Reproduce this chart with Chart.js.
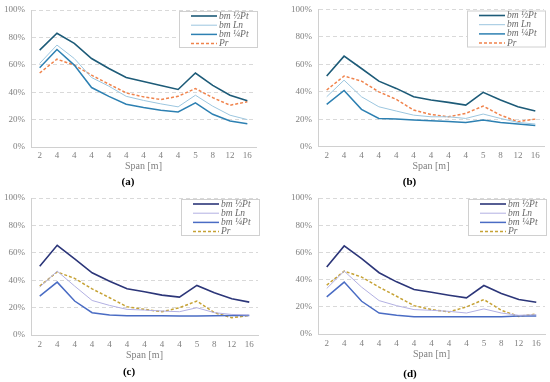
<!DOCTYPE html>
<html>
<head>
<meta charset="utf-8">
<script src="https://cdn.jsdelivr.net/npm/chart.js@4.4.1/dist/chart.umd.min.js"></script>
<style>
  html, body { margin: 0; padding: 0; background: #ffffff; }
  #wrap { position: relative; width: 550px; height: 382px; }
  .cell { position: absolute; width: 275px; height: 191px; }
</style>
</head>
<body>
<div id="wrap">
  <div class="cell" style="left:0;top:0"><canvas id="ca" width="275" height="191"></canvas></div>
  <div class="cell" style="left:275px;top:0"><canvas id="cb" width="275" height="191"></canvas></div>
  <div class="cell" style="left:0;top:191px"><canvas id="cc" width="275" height="191"></canvas></div>
  <div class="cell" style="left:275px;top:191px"><canvas id="cd" width="275" height="191"></canvas></div>
</div>
<script>
// ---- Data ----
const spans = ['2', '4', '4', '4', '4', '4', '4', '4', '4', '5', '8', '12', '16'];
const seriesNames = ['bm \u00BDPt', 'bm Ln', 'bm \u00BCPt', 'Pr'];
const panelLabels = ['(a)', '(b)', '(c)', '(d)'];
const axisTitle = 'Span [m]';

// panel (a)
const aHalfPt    = [70.7, 83.0, 75.6, 64.6, 57.3, 50.7, 47.8, 44.9, 42.0, 54.0, 45.0, 37.8, 33.7];
const aLn        = [61.0, 74.4, 64.6, 50.7, 44.4, 37.0, 34.0, 31.5, 29.3, 37.8, 29.8, 23.2, 20.0];
const aQuarterPt = [57.8, 71.2, 59.8, 43.4, 37.0, 31.2, 28.8, 26.8, 25.6, 32.2, 23.9, 19.0, 17.0];
const aPr        = [54.0, 64.1, 59.8, 52.4, 45.9, 39.5, 36.6, 34.6, 37.0, 42.7, 36.0, 30.5, 33.0];
// panel (b)
const bHalfPt    = [51.5, 66.0, 57.0, 47.8, 42.5, 36.4, 34.0, 32.3, 30.3, 39.6, 34.0, 29.1, 26.0];
const bLn        = [36.4, 48.5, 36.4, 29.1, 26.0, 23.0, 21.8, 21.8, 20.6, 23.8, 20.6, 17.7, 16.5];
const bQuarterPt = [30.8, 41.0, 27.2, 20.6, 20.1, 19.4, 18.9, 18.4, 17.7, 19.4, 17.7, 16.5, 15.5];
const bPr        = [41.3, 51.5, 47.8, 40.0, 34.5, 26.7, 23.5, 21.8, 24.3, 29.6, 23.0, 18.2, 20.1];
// panel (c)
const cHalfPt    = [50.2, 65.5, 55.6, 45.4, 39.3, 33.7, 31.6, 29.1, 27.7, 36.2, 30.8, 26.5, 24.0];
const cLn        = [35.0, 46.6, 35.7, 25.2, 21.6, 18.7, 18.2, 17.5, 17.0, 19.9, 16.3, 15.0, 14.6];
const cQuarterPt = [28.4, 38.6, 24.8, 16.3, 14.6, 14.1, 14.1, 14.1, 13.8, 13.8, 14.1, 14.3, 14.3];
const cPr        = [35.7, 46.0, 41.3, 33.7, 27.2, 20.6, 18.7, 17.0, 19.9, 24.8, 16.3, 12.6, 14.3];
// panel (d)
const dHalfPt    = [49.3, 64.8, 55.4, 45.1, 38.4, 32.8, 30.8, 28.6, 26.6, 35.7, 29.8, 25.4, 23.4];
const dLn        = [33.5, 46.3, 34.5, 24.6, 20.9, 18.0, 17.5, 16.7, 15.5, 18.5, 15.5, 13.8, 14.3];
const dQuarterPt = [27.3, 38.2, 24.1, 15.5, 13.8, 12.8, 12.8, 12.8, 12.8, 12.8, 12.8, 13.3, 13.3];
const dPr        = [36.0, 46.3, 41.9, 34.5, 27.8, 20.9, 18.0, 16.3, 20.0, 25.4, 17.5, 13.0, 14.8];

const yMin = 0, yMax = 100, yStep = 20;

// ---- Styles ----
const palBlue = ['#1d5b78', '#9cc6df', '#2d80b2', '#f0834c'];
const palNavy = ['#2c3679', '#b2b0e2', '#4a6cc4', '#c6a235'];
const SERIF = '"Liberation Serif", "DejaVu Serif", serif';

const legendPlugin = {
  id: 'boxLegend',
  afterDatasetsDraw(chart) {
    const ctx = chart.ctx;
    const ca = chart.chartArea;
    const w = 78, h = 36;
    const x0 = ca.right - w + 1, y0 = ca.top + 1;
    ctx.save();
    ctx.fillStyle = '#ffffff';
    ctx.fillRect(x0, y0, w, h);
    ctx.strokeStyle = '#d0d0d0';
    ctx.lineWidth = 1;
    ctx.setLineDash([]);
    ctx.strokeRect(x0 + 0.5, y0 + 0.5, w, h);
    ctx.font = 'italic 9.5px ' + SERIF;
    ctx.textBaseline = 'middle';
    chart.data.datasets.forEach((ds, i) => {
      const yy = y0 + 5 + i * 9.2;
      ctx.beginPath();
      ctx.strokeStyle = ds.borderColor;
      ctx.lineWidth = ds.borderWidth;
      ctx.setLineDash(ds.borderDash || []);
      ctx.moveTo(x0 + 12, yy);
      ctx.lineTo(x0 + 38, yy);
      ctx.stroke();
      ctx.setLineDash([]);
      ctx.fillStyle = '#6a6a6a';
      ctx.fillText(ds.label, x0 + 40, yy);
    });
    ctx.restore();
  }
};

function makeChart(id, label, series, pal, geo) {
  const widths = [1.6, 1.0, 1.5, 1.5];
  const datasets = series.map((vals, i) => ({
    label: seriesNames[i],
    data: vals,
    borderColor: pal[i],
    backgroundColor: pal[i],
    borderWidth: widths[i],
    borderDash: i === 3 ? [3, 2] : [],
    pointRadius: 0,
    tension: 0,
    fill: false
  }));
  return new Chart(document.getElementById(id), {
    type: 'line',
    data: { labels: spans, datasets: datasets },
    options: {
      responsive: false,
      animation: false,
      layout: { padding: { left: 0, right: geo.right, top: geo.top, bottom: 0 } },
      plugins: {
        legend: { display: false },
        tooltip: { enabled: false },
        title: {
          display: true,
          text: label,
          position: 'bottom',
          color: '#000000',
          font: { family: SERIF, size: 11, weight: 'bold' },
          padding: { top: geo.tTop, bottom: geo.tBottom }
        }
      },
      scales: {
        x: {
          offset: true,
          afterFit(scale) { scale.height = geo.xh; },
          grid: { display: false, drawTicks: false },
          border: { display: true, color: '#d0d0d0', width: 1 },
          ticks: { color: '#808080', font: { family: SERIF, size: 9 }, padding: geo.tickPad, autoSkip: false, maxRotation: 0 },
          title: { display: true, text: axisTitle, color: '#808080', font: { family: SERIF, size: 10 }, padding: { top: 0, bottom: 0 } }
        },
        y: {
          min: yMin, max: yMax,
          afterFit(scale) { scale.width = geo.yw; scale.paddingTop = 0; scale.paddingBottom = 0; },
          grid: { color: '#d9d9d9', lineWidth: 1, drawTicks: false },
          border: { display: true, color: '#d0d0d0', width: 1, dash: [4, 3] },
          ticks: {
            stepSize: yStep,
            color: '#808080',
            font: { family: SERIF, size: 9 },
            padding: 6,
            callback: (v) => v + '%'
          }
        }
      }
    },
    plugins: [legendPlugin]
  });
}

makeChart('ca', panelLabels[0], [aHalfPt, aLn, aQuarterPt, aPr], palBlue,
  { yw: 31, right: 19, top: 10, xh: 25, tickPad: 3, tTop: 3.5, tBottom: 2.3 });
makeChart('cb', panelLabels[1], [bHalfPt, bLn, bQuarterPt, bPr], palBlue,
  { yw: 43, right: 6, top: 9.5, xh: 26, tickPad: 4, tTop: 3, tBottom: 2.1 });
makeChart('cc', panelLabels[2], [cHalfPt, cLn, cQuarterPt, cPr], palNavy,
  { yw: 31, right: 17, top: 7, xh: 26, tickPad: 4, tTop: 5, tBottom: 2.8 });
makeChart('cd', panelLabels[3], [dHalfPt, dLn, dQuarterPt, dPr], palNavy,
  { yw: 43, right: 5, top: 7, xh: 26, tickPad: 4, tTop: 7, tBottom: 1.7 });
</script>
</body>
</html>
